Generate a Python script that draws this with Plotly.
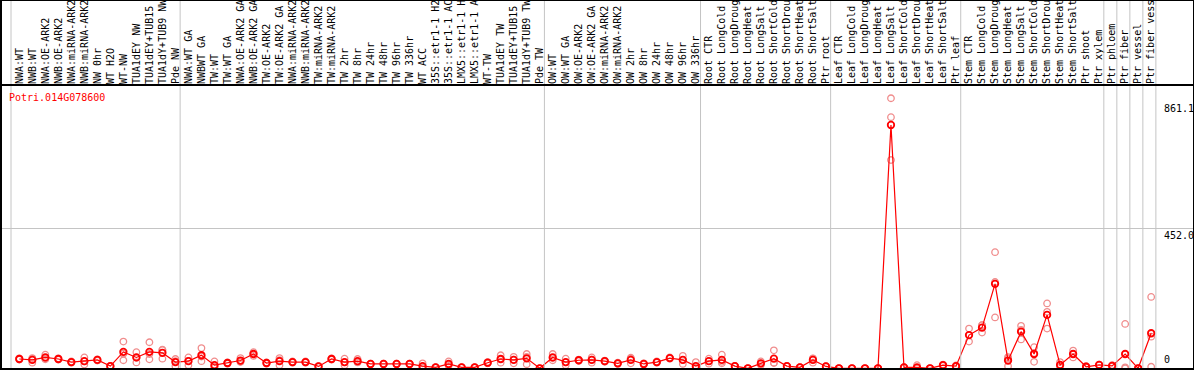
import plotly.graph_objects as go

gene_name = "Potri.014G078600"

labels = [
    "NWA:WT", "NWB:WT", "NWA:OE-ARK2", "NWB:OE-ARK2", "NWA:miRNA-ARK2", "NWB:miRNA-ARK2",
    "NW 0hr", "WT H2O", "WT-NW", "TUA1dEY NW", "TUA1dEY+TUB15 NW", "TUA1dY+TUB9 NW", "Pde NW",
    "NWA:WT GA", "NWBWT GA", "TW:WT", "TW:WT GA", "NWA:OE-ARK2 GA", "NWB:OE-ARK2 GA",
    "TW:OE-ARK2", "TW:OE-ARK2 GA", "NWA:miRNA-ARK2", "NWB:miRNA-ARK2", "TW:miRNA-ARK2",
    "TW:miRNA-ARK2", "TW 2hr", "TW 8hr", "TW 24hr", "TW 48hr", "TW 96hr", "TW 336hr", "WT ACC",
    "35S::etr1-1 H2O", "35S::etr1-1 ACC", "LMX5::etr1-1 H2O", "LMX5::etr1-1 ACC", "WT-TW",
    "TUA1dEY TW", "TUA1dEY+TUB15 TW", "TUA1dY+TUB9 TW", "Pde TW",
    "OW:WT", "OW:WT GA", "OW:OE-ARK2", "OW:OE-ARK2 GA", "OW:miRNA-ARK2", "OW:miRNA-ARK2",
    "OW 2hr", "OW 8hr", "OW 24hr", "OW 48hr", "OW 96hr", "OW 336hr",
    "Root CTR", "Root LongCold", "Root LongDrought", "Root LongHeat", "Root LongSalt",
    "Root ShortCold", "Root ShortDrought", "Root ShortHeat", "Root ShortSalt", "Ptr root",
    "Leaf CTR", "Leaf LongCold", "Leaf LongDrought", "Leaf LongHeat", "Leaf LongSalt",
    "Leaf ShortCold", "Leaf ShortDrought", "Leaf ShortHeat", "Leaf ShortSalt", "Ptr leaf",
    "Stem CTR", "Stem LongCold", "Stem LongDrought", "Stem LongHeat", "Stem LongSalt",
    "Stem ShortCold", "Stem ShortDrought", "Stem ShortHeat", "Stem ShortSalt", "Ptr shoot",
    "Ptr xylem", "Ptr phloem", "Ptr fiber", "Ptr vessel", "Ptr fiber vessel",
]

mean_vals = [
    30, 27, 35, 30, 20, 23, 27, 7, 53, 35, 53, 50, 20,
    23, 42, 10, 17, 25, 46, 17, 23, 20, 20, 6, 30, 20, 23, 14, 14, 14, 14, 7, 3, 14, 3, 3,
    18, 30, 27, 32, 0,
    35, 20, 26, 27, 23, 16, 27, 14, 20, 33, 27, 7,
    23, 27, 7, 0, 16, 31, 7, 3, 27, 6,
    0, 0, 0, 0, 784, 3, 3, 0, 10, 7,
    107, 131, 272, 25, 118, 46, 172, 11, 46, 5, 11,
    8, 46, 0, 113,
]

rep1 = [
    32, 33, 44, 32, 22, 35, 29, 8, 86, 52, 84, 59, 30,
    35, 65, 22, 19, 33, 52, 19, 33, 22, 22, 7, 32, 31, 30, 15, 15, 15, 15, 16, 4, 22, 4, 4,
    20, 42, 37, 46, 0,
    46, 31, 28, 35, 25, 18, 34, 16, 22, 35, 40, 20,
    31, 44, 8, 0, 22, 58, 8, 4, 31, 7,
    0, 0, 0, 0, 870, 4, 10, 0, 12, 9,
    128, 139, 374, 7, 137, 68, 209, 20, 57, 7, 12,
    10, 143, 0, 230,
]

rep2 = [
    28, 30, 32, 30, 20, 22, 27, 7, 47, 34, 46, 60, 23,
    24, 38, 5, 17, 22, 46, 17, 26, 20, 20, 6, 30, 19, 20, 14, 14, 14, 14, 3, 3, 12, 3, 3,
    18, 30, 28, 37, 0,
    33, 19, 26, 28, 23, 16, 31, 14, 20, 33, 27, 1,
    23, 21, 7, 0, 15, 18, 7, 3, 32, 6,
    0, 0, 0, 0, 809, 3, 0, 0, 10, 7,
    107, 139, 278, 32, 124, 49, 182, 8, 46, 5, 11,
    8, 3, 0, 102,
]

rep3 = [
    30, 18, 29, 28, 18, 12, 25, 6, 26, 19, 29, 31, 7,
    10, 23, 3, 15, 20, 40, 15, 10, 18, 18, 5, 28, 10, 19, 13, 13, 13, 13, 2, 2, 8, 2, 2,
    16, 18, 16, 13, 0,
    26, 10, 24, 18, 21, 14, 16, 12, 18, 31, 14, 0,
    15, 16, 6, 0, 11, 17, 6, 2, 18, 5,
    0, 0, 0, 0, 671, 2, 0, 0, 8, 5,
    86, 115, 164, 36, 93, 21, 128, 5, 35, 3, 10,
    6, 0, 0, 5,
]

y_tick_vals = [0, 452.0, 861.1]
y_tick_text = ["0", "452.0", "861.1"]
group_bounds = [0, 13, 41, 53, 63, 73, 84, 85, 86, 87, 88]

W, H = 1194, 370
TOP = 85
FONT = "DejaVu Sans Mono"

idx = list(range(len(labels)))
step = 13.01
x0px = 19.3
x_range = [-x0px / step, (W - x0px) / step]
s = (368.3 - 228) / 452.0
y_range = [-(H - 368.3) / s, (368.3 - TOP) / s]

fig = go.Figure()

for reps in (rep1, rep2, rep3):
    fig.add_trace(go.Scatter(
        x=idx, y=reps, mode="markers",
        marker=dict(symbol="circle-open", size=6.5, color="#f08c8c", line=dict(width=1.3)),
        hoverinfo="skip", showlegend=False,
    ))

fig.add_trace(go.Scatter(
    x=idx, y=mean_vals, mode="lines+markers",
    line=dict(color="#ff0000", width=1.2),
    marker=dict(symbol="circle-open", size=6.5, color="#ff0000", line=dict(width=1.8)),
    showlegend=False,
))

shapes = []
ptop = H / (H - TOP)
for k in group_bounds:
    xb = (11 + step * k - x0px) / step
    shapes.append(dict(type="line", xref="x", yref="paper", x0=xb, x1=xb, y0=0, y1=ptop,
                       line=dict(color="#c4c4c4", width=1)))


def py(p):
    return (H - p) / (H - TOP)


shapes.append(dict(type="line", xref="paper", yref="paper", x0=0, x1=1, y0=1, y1=1,
                   line=dict(color="black", width=2)))
shapes.append(dict(type="line", xref="paper", yref="paper", x0=0, x1=1, y0=py(0.5), y1=py(0.5),
                   line=dict(color="black", width=1)))
shapes.append(dict(type="line", xref="paper", yref="paper", x0=0, x1=1, y0=py(369), y1=py(369),
                   line=dict(color="black", width=2)))
shapes.append(dict(type="line", xref="paper", yref="paper", x0=1 / W, x1=1 / W, y0=0, y1=ptop,
                   line=dict(color="black", width=2)))
shapes.append(dict(type="line", xref="paper", yref="paper", x0=1193.5 / W, x1=1193.5 / W, y0=0, y1=ptop,
                   line=dict(color="black", width=1)))

annotations = [
    dict(text=gene_name, xref="paper", yref="paper", x=7 / W, y=py(97), xanchor="left",
         yanchor="middle", showarrow=False, font=dict(family=FONT, size=10, color="#ff0000")),
]
for v, t in zip(y_tick_vals, y_tick_text):
    if v == 0:
        annotations.append(dict(text=t, xref="paper", yref="y", x=1162 / W, y=v, xanchor="left",
                                yanchor="bottom", yshift=1, showarrow=False,
                                font=dict(family=FONT, size=10, color="black")))
    else:
        annotations.append(dict(text=t, xref="paper", yref="y", x=1162 / W, y=v, xanchor="left",
                                yanchor="top", showarrow=False,
                                font=dict(family=FONT, size=10, color="black")))

fig.update_layout(
    template="none",
    width=W, height=H,
    margin=dict(l=0, r=0, t=TOP, b=0, pad=0),
    plot_bgcolor="white", paper_bgcolor="white",
    showlegend=False,
    xaxis=dict(range=x_range, side="top", tickmode="array", tickvals=idx, ticktext=labels,
               tickangle=-90, tickfont=dict(family=FONT, size=10, color="black"),
               showgrid=False, zeroline=False, showline=False, ticks="", automargin=False,
               ticklabelstandoff=0),
    yaxis=dict(range=y_range, tickmode="array", tickvals=[452.0], showgrid=True,
               gridcolor="#c4c4c4", gridwidth=1, showticklabels=False, zeroline=False,
               showline=False, ticks="", automargin=False),
    shapes=shapes,
    annotations=annotations,
)

fig.write_html(
    "out.html",
    config={"displayModeBar": False},
    post_script="document.body.style.margin='0';document.body.style.overflow='hidden';",
)
